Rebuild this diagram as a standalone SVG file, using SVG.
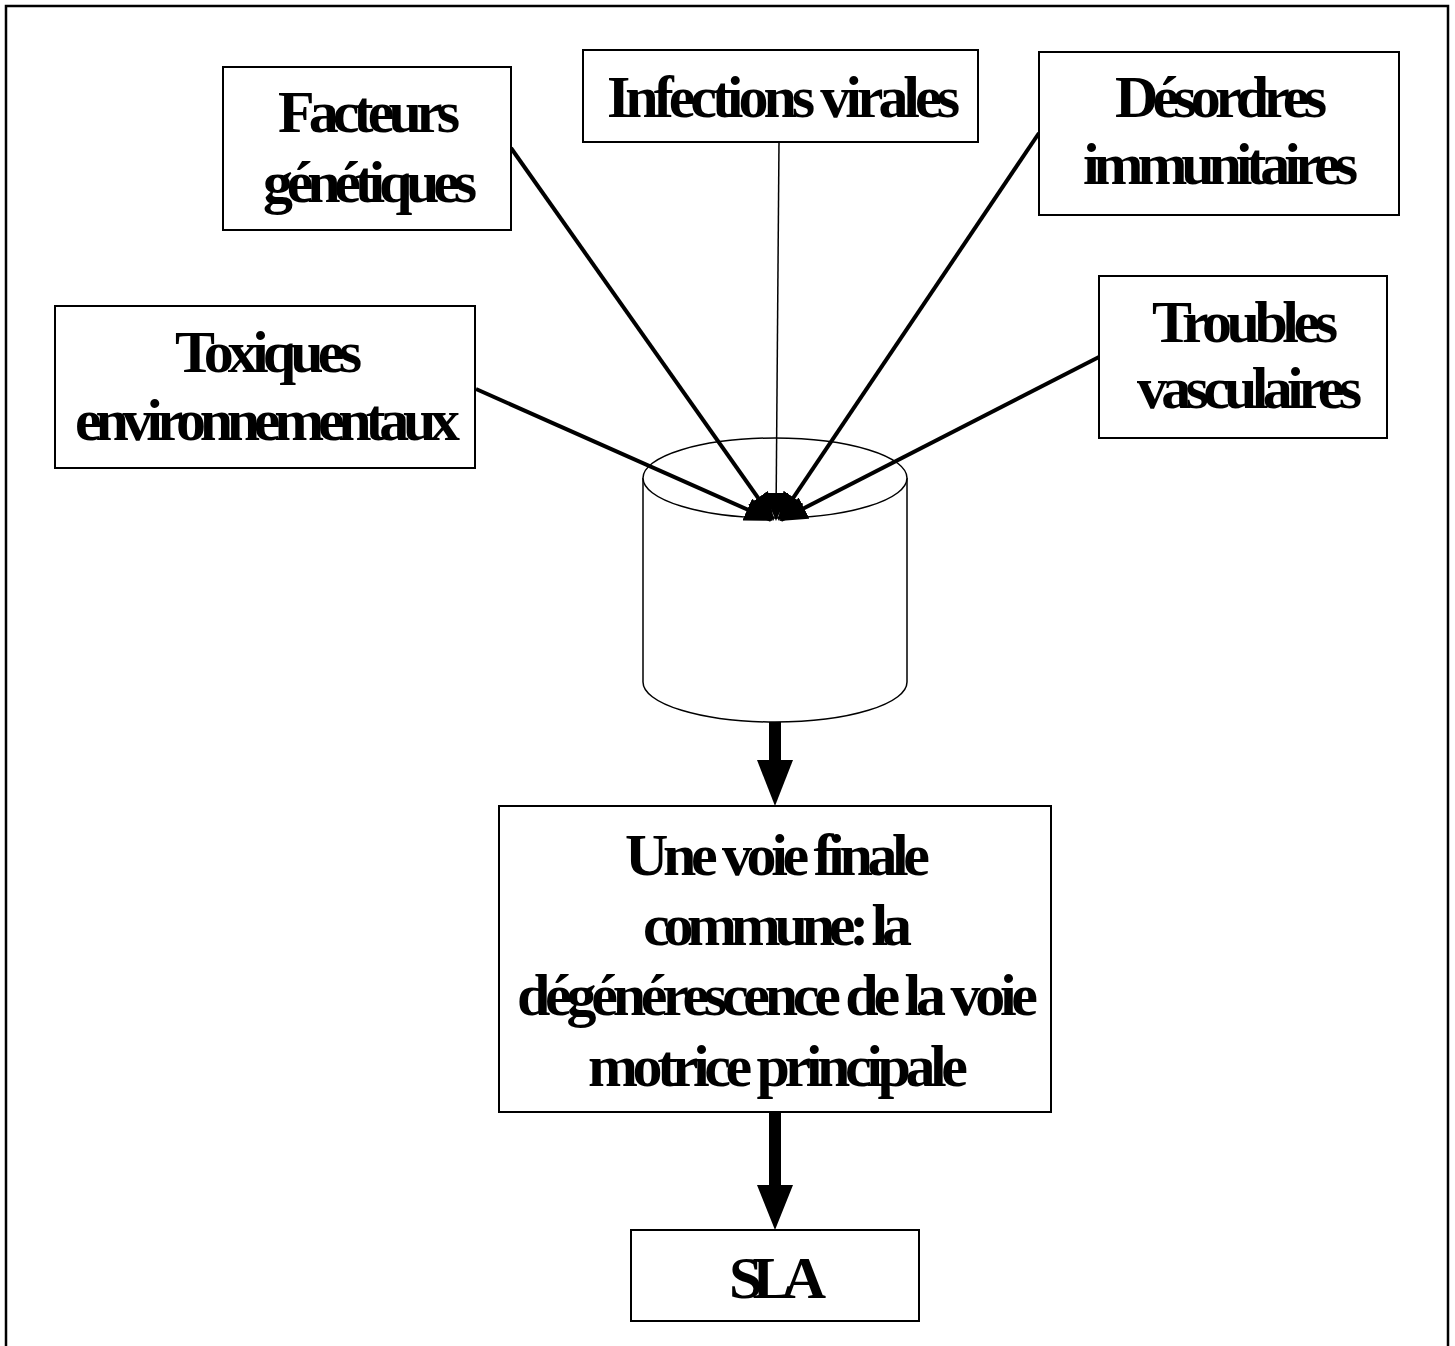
<svg xmlns="http://www.w3.org/2000/svg" width="1455" height="1346" viewBox="0 0 1455 1346">
<style>
.box{fill:#fff;stroke:#000;stroke-width:2}
.t{font-family:"Liberation Serif","Times New Roman",serif;font-weight:bold;font-size:60px;fill:#000}
.c{stroke:#000;stroke-width:4;fill:none}
.thin{stroke:#000;stroke-width:1.5;fill:none}
</style>
<defs>
<marker id="ah" markerUnits="userSpaceOnUse" markerWidth="28" markerHeight="24" refX="26" refY="12" orient="auto">
<path d="M0,0 L28,12 L0,24 Z" fill="#000"/>
</marker>
</defs>
<rect x="6" y="6" width="1442" height="1360" fill="none" stroke="#000" stroke-width="2.5"/>
<g id="cylindre">
<path d="M643,478 L643,682 A132,40 0 0 0 907,682 L907,478" fill="#fff" stroke="#000" stroke-width="1.5"/>
<ellipse cx="775" cy="478" rx="132" ry="40" fill="#fff" stroke="#000" stroke-width="1.5"/>
</g>
<g id="connecteurs">
<line class="c" x1="511" y1="148" x2="773" y2="519" marker-end="url(#ah)"/>
<line class="thin" x1="779" y1="142" x2="776" y2="519" marker-end="url(#ah)"/>
<line class="c" x1="1039" y1="133" x2="779" y2="519" marker-end="url(#ah)"/>
<line class="c" x1="476" y1="389" x2="771" y2="520" marker-end="url(#ah)"/>
<line class="c" x1="1099" y1="357" x2="781" y2="520" marker-end="url(#ah)"/>
<rect x="769" y="722" width="12" height="40" fill="#000"/>
<path d="M757,760 L793,760 L775,806 Z" fill="#000"/>
<rect x="769" y="1112" width="12" height="75" fill="#000"/>
<path d="M757,1185 L793,1185 L775,1230 Z" fill="#000"/>
</g>
<g id="facteurs">
<rect class="box" x="223" y="67" width="288" height="163"/>
<text class="t" x="278" y="132" textLength="182" lengthAdjust="spacing">Facteurs</text>
<text class="t" x="263" y="202" textLength="214" lengthAdjust="spacing">génétiques</text>
</g>
<g id="infections">
<rect class="box" x="583" y="50" width="395" height="92"/>
<text class="t" x="607" y="117" textLength="353" lengthAdjust="spacing">Infections virales</text>
</g>
<g id="desordres">
<rect class="box" x="1039" y="52" width="360" height="163"/>
<text class="t" x="1115" y="117" textLength="212" lengthAdjust="spacing">Désordres</text>
<text class="t" x="1083" y="184" textLength="275" lengthAdjust="spacing">immunitaires</text>
</g>
<g id="toxiques">
<rect class="box" x="55" y="306" width="420" height="162"/>
<text class="t" x="175" y="372" textLength="187" lengthAdjust="spacing">Toxiques</text>
<text class="t" x="75" y="440" textLength="385" lengthAdjust="spacing">environnementaux</text>
</g>
<g id="troubles">
<rect class="box" x="1099" y="276" width="288" height="162"/>
<text class="t" x="1152" y="342" textLength="186" lengthAdjust="spacing">Troubles</text>
<text class="t" x="1137" y="408" textLength="225" lengthAdjust="spacing">vasculaires</text>
</g>
<g id="voie">
<rect class="box" x="499" y="806" width="552" height="306"/>
<text class="t" x="625" y="875" textLength="305" lengthAdjust="spacing">Une voie finale</text>
<text class="t" x="643" y="945" textLength="269" lengthAdjust="spacing">commune: la</text>
<text class="t" x="517" y="1015" textLength="521" lengthAdjust="spacing">dégénérescence de la voie</text>
<text class="t" x="588" y="1086" textLength="380" lengthAdjust="spacing">motrice principale</text>
</g>
<g id="sla">
<rect class="box" x="631" y="1230" width="288" height="91"/>
<text class="t" x="729" y="1298" textLength="97" lengthAdjust="spacing">SLA</text>
</g>
</svg>
